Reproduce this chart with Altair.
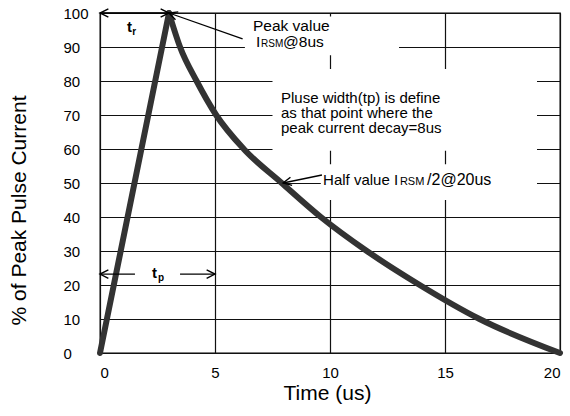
import altair as alt
import pandas as pd

# ---- curve data ----
rise_t = [0, 3]
rise_pct = [0, 100]
decay_t = [3, 3.48, 4.2, 5.05, 6.25, 7.9, 9.6, 11.6, 13.9, 16.5, 20]
decay_pct = [100, 90, 80, 70, 60, 50, 40, 30, 20, 10, 0]

x_ticks = [0, 5, 10, 15, 20]
y_ticks = [0, 10, 20, 30, 40, 50, 60, 70, 80, 90, 100]

# ---- annotation layout (data coordinates) ----
box_x = [6.3, 7.5, 9.6]
box_x2 = [13.0, 19.0, 19.0]
box_y = [87.6, 59.5, 45.0]
box_y2 = [99.0, 83.5, 55.5]

arrow_x = [0, 3, 0, 3.48, 7.96]
arrow_y = [100, 100, 23.2, 23.2, 50]
arrow_x2 = [3, 6.2, 1.52, 5, 9.65]
arrow_y2 = [100, 92.4, 23.2, 23.2, 52.35]

head_x = [0, 3, 3, 0, 5, 7.96]
head_y = [100, 100, 100, 23.2, 23.2, 50]
head_angle = [0, 180, 19.6, 0, 180, 348.4]

txt = ["Peak value", "I", "RSM", "@8us",
       "Pluse width(tp) is define", "as that point where the", "peak current decay=8us",
       "Half value I", "RSM", "/2@20us"]
txt_x = [6.65, 6.78, 7.0, 7.96,
         7.87, 7.87, 7.87,
         9.70, 13.04, 14.22]
txt_y = [94.6, 90.0, 90.0, 90.0,
         73.6, 69.2, 64.8,
         49.4, 49.4, 49.4]
txt_size = [15.5, 15.5, 10, 15.5, 15, 15, 15, 15, 11, 16]

sub_txt = ["t", "r", "t", "p"]
sub_x = [1.17, 1.40, 2.26, 2.52]
sub_y = [94.4, 93.6, 22.1, 21.2]
sub_size = [15, 10, 15, 10]

rise = pd.DataFrame({"x": rise_t, "y": rise_pct})
decay = pd.DataFrame({"x": decay_t, "y": decay_pct})
boxes = pd.DataFrame({"x": box_x, "x2": box_x2, "y": box_y, "y2": box_y2})
arrows = pd.DataFrame({"x": arrow_x, "y": arrow_y, "x2": arrow_x2, "y2": arrow_y2})
heads = pd.DataFrame({"x": head_x, "y": head_y, "a": head_angle})
texts = pd.DataFrame({"x": txt_x, "y": txt_y, "t": txt, "s": txt_size})
subs = pd.DataFrame({"x": sub_x, "y": sub_y, "t": sub_txt, "s": sub_size})

FONT = "Liberation Sans"
xs = alt.Scale(domain=[0, 20], nice=False)
ys = alt.Scale(domain=[0, 100], nice=False)

x_axis = alt.Axis(
    values=x_ticks, grid=True, gridColor="#111", gridWidth=1.2,
    domain=False, ticks=False, labelFont=FONT, labelFontSize=15,
    labelColor="black", labelPadding=12, labelOverlap=False,
    title="Time (us)", titleFont=FONT, titleFontSize=21,
    titleFontWeight="normal", titleColor="black",
    titleX=227, titleY=46, titleBaseline="alphabetic", titleAlign="center")
y_axis = alt.Axis(
    values=y_ticks, grid=True, gridColor="#111", gridWidth=1.2,
    domain=False, ticks=False, labelFont=FONT, labelFontSize=15,
    labelColor="black", labelAlign="left", labelPadding=37,
    labelBaseline="middle", labelOverlap=False,
    title="% of Peak Pulse Current", titleFont=FONT, titleFontSize=21,
    titleFontWeight="normal", titleColor="black", titleAngle=270,
    titleX=-75, titleY=197, titleBaseline="alphabetic", titleAlign="center")

X = alt.X("x:Q", scale=xs, axis=x_axis)
Y = alt.Y("y:Q", scale=ys, axis=y_axis)

base_rect = alt.Chart(boxes).mark_rect(color="white").encode(
    x=X, x2="x2:Q", y=Y, y2="y2:Q")

rise_line = alt.Chart(rise).mark_line(
    color="#333333", strokeWidth=6, strokeCap="round", strokeJoin="round"
).encode(x=X, y=Y)

decay_line = alt.Chart(decay).mark_line(
    color="#333333", strokeWidth=6, strokeCap="round", strokeJoin="round",
    interpolate="monotone"
).encode(x=X, y=Y)

arrow_rules = alt.Chart(arrows).mark_rule(color="black", strokeWidth=1.3).encode(
    x=X, y=Y, x2="x2:Q", y2="y2:Q")

arrow_heads = alt.Chart(heads).mark_point(
    shape="M 2 -1 L 0 0 L 2 1", filled=False, color="black",
    strokeWidth=1.4, size=70, opacity=1
).encode(x=X, y=Y, angle=alt.Angle("a:Q", scale=None))

labels = alt.Chart(texts).mark_text(
    align="left", baseline="alphabetic", font=FONT, color="black"
).encode(x=X, y=Y, text="t:N", size=alt.Size("s:Q", scale=None))

sub_labels = alt.Chart(subs).mark_text(
    align="left", baseline="alphabetic", font=FONT, color="black", fontWeight="bold"
).encode(x=X, y=Y, text="t:N", size=alt.Size("s:Q", scale=None))

chart = alt.layer(
    base_rect, rise_line, decay_line, arrow_rules, arrow_heads, labels, sub_labels
).properties(
    width=460, height=340,
    autosize=alt.AutoSizeParams(type="none"),
    padding={"left": 100, "top": 13, "right": 10, "bottom": 63},
    background="white",
).configure_view(stroke="black", strokeWidth=1.3)

chart.save("out.html", embed_options={"renderer": "svg", "actions": False})
